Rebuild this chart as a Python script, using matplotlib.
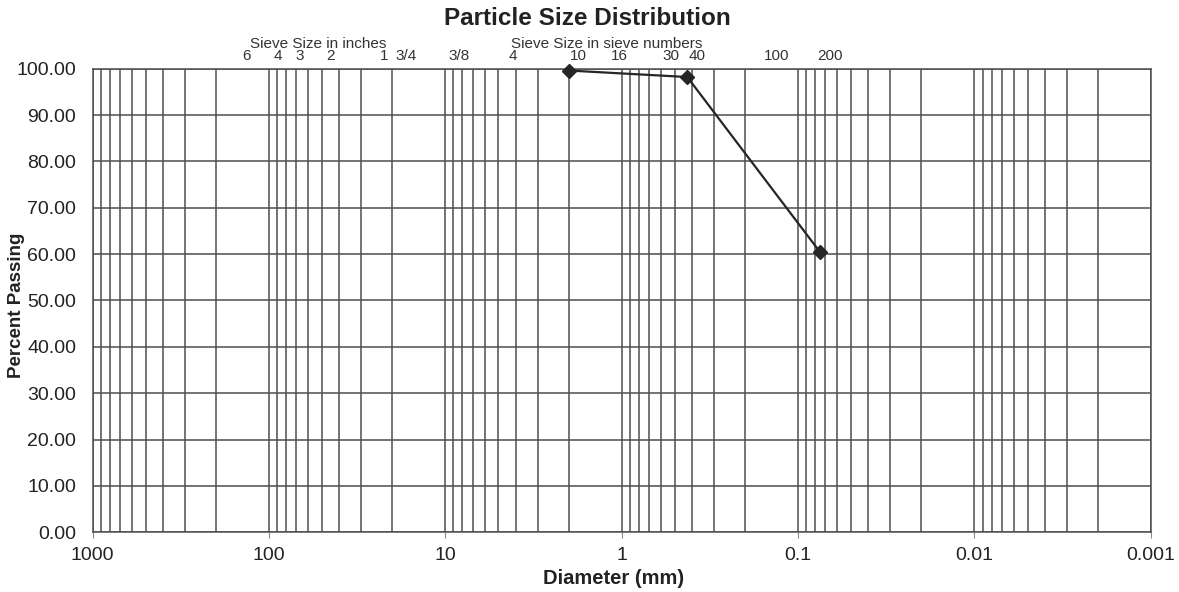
import matplotlib

matplotlib.use("Agg")
import matplotlib.pyplot as plt
from matplotlib.ticker import FixedLocator, NullFormatter


# =========================
# Data
# =========================
DIAMETER_MM = [2.0, 0.425, 0.075]
PERCENT_PASSING = [99.6, 98.2, 60.4]

SIEVE_LABELS = ["6", "4", "3", "2", "1", "3/4", "3/8", "4", "10", "16", "30", "40", "100", "200"]
SIEVE_SIZES_MM = [152.4, 101.6, 76.2, 50.8, 25.4, 19.05, 9.525, 4.75, 2.0, 1.18, 0.6, 0.425, 0.15, 0.075]

X_TICKS = [1000, 100, 10, 1, 0.1, 0.01, 0.001]
X_TICK_LABELS = ["1000", "100", "10", "1", "0.1", "0.01", "0.001"]
Y_TICKS = list(range(0, 101, 10))

GRID_COLOR = "#4e4e4e"
LINE_COLOR = "#262626"
TEXT_COLOR = "#222222"

plt.rcParams["font.family"] = ["Liberation Sans", "DejaVu Sans"]


def main() -> None:
    fig = plt.figure(figsize=(11.79, 5.92), dpi=100)
    ax = fig.add_axes([0.0786, 0.101, 0.8975, 0.783])

    ax.set_xscale("log")
    ax.set_xlim(1000, 0.001)
    ax.set_ylim(0, 100)

    # vertical grid at every log minor position
    minors = [m * 10.0 ** e for e in range(-3, 3) for m in range(2, 10)]
    ax.xaxis.set_major_locator(FixedLocator(X_TICKS))
    ax.xaxis.set_minor_locator(FixedLocator(minors))
    ax.xaxis.set_minor_formatter(NullFormatter())
    ax.set_xticklabels(X_TICK_LABELS)
    ax.set_yticks(Y_TICKS)
    ax.set_yticklabels([f"{v:.2f}" for v in Y_TICKS])

    ax.grid(True, which="both", axis="x", color=GRID_COLOR, linewidth=1.1)
    ax.grid(True, which="major", axis="y", color=GRID_COLOR, linewidth=1.1)
    ax.set_axisbelow(True)

    ax.tick_params(axis="x", which="major", length=4, width=0.8, color="#888888",
                   labelsize=14, labelcolor=TEXT_COLOR, pad=7)
    ax.tick_params(axis="x", which="minor", length=0)
    ax.tick_params(axis="y", length=0, labelsize=14, labelcolor=TEXT_COLOR, pad=12)
    for spine in ax.spines.values():
        spine.set_color(GRID_COLOR)
        spine.set_linewidth(1.1)

    ax.plot(DIAMETER_MM, PERCENT_PASSING, color=LINE_COLOR, linewidth=1.6,
            marker="D", markersize=7, markerfacecolor=LINE_COLOR,
            markeredgecolor=LINE_COLOR, clip_on=False, zorder=5)

    # sieve labels above the plot area
    trans = ax.get_xaxis_transform()
    for label, size in zip(SIEVE_LABELS, SIEVE_SIZES_MM):
        ax.annotate(label, xy=(size, 1.0), xycoords=trans,
                    xytext=(10, 13), textcoords="offset pixels",
                    ha="center", va="center", fontsize=11, color="#333333")
    fig.text(0.270, 0.926, "Sieve Size in inches", ha="center", va="center",
             fontsize=11, color="#333333")
    fig.text(0.515, 0.926, "Sieve Size in sieve numbers", ha="center", va="center",
             fontsize=11, color="#333333")

    fig.text(0.498, 0.968, "Particle Size Distribution", ha="center", va="center",
             fontsize=17.5, fontweight="bold", color=TEXT_COLOR)
    ax.set_xlabel("Diameter (mm)", fontsize=14.5, fontweight="bold", color=TEXT_COLOR)
    ax.xaxis.set_label_coords(0.492, -0.08)
    ax.set_ylabel("Percent Passing", fontsize=13.5, fontweight="bold", color=TEXT_COLOR)
    ax.yaxis.set_label_coords(-0.064, 0.49)

    fig.savefig("out.png", dpi=100)
    plt.close(fig)


if __name__ == "__main__":
    main()
